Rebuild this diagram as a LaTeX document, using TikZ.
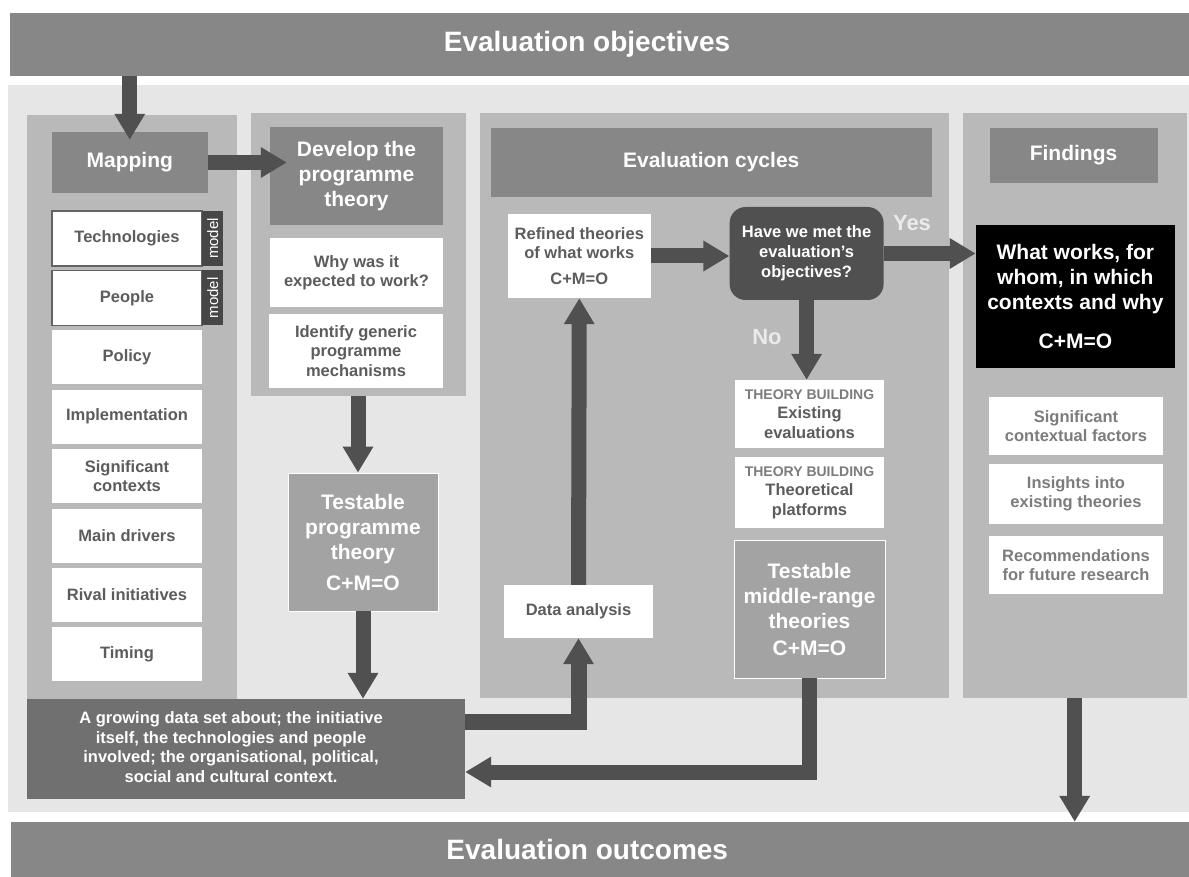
\documentclass[tikz,border=0pt]{standalone}
\usepackage{fontspec}
\setmainfont{Liberation Sans}
\usetikzlibrary{arrows.meta}

\definecolor{bannergray}{HTML}{878787}
\definecolor{backgray}{HTML}{E6E6E6}
\definecolor{panelgray}{HTML}{B9B9B9}
\definecolor{arrowgray}{HTML}{505050}
\definecolor{testgray}{HTML}{A3A3A3}
\definecolor{datagray}{HTML}{707070}
\definecolor{tagdark}{HTML}{474747}
\definecolor{textgray}{HTML}{5C5C5C}
\definecolor{lighttext}{HTML}{7C7C7C}

\tikzset{
  banner/.style={fill=bannergray, text=white, inner sep=0pt, font=\bfseries\fontsize{28}{32}\selectfont},
  panel/.style={fill=panelgray, inner sep=0pt},
  header/.style={fill=bannergray, text=white, align=center, inner sep=0pt, font=\bfseries\fontsize{21}{25}\selectfont},
  item/.style={fill=white, text=textgray, align=center, inner sep=0pt, font=\bfseries\fontsize{16.5}{19.5}\selectfont},
  finding/.style={item, text=lighttext},
  framed/.style={item, draw=tagdark!85, line width=1.5pt},
  tag/.style={fill=tagdark, text=white, inner sep=0pt, rotate=90, font=\fontsize{15}{15}\selectfont},
  testable/.style={fill=testgray, draw=white, line width=0.8pt, text=white, align=center, inner sep=0pt, font=\bfseries\fontsize{21}{25}\selectfont},
  decision/.style={fill=arrowgray, rounded corners=16pt, text=white, align=center, inner sep=0pt, font=\bfseries\fontsize{16.5}{20}\selectfont},
  answer/.style={text=white!92!black, inner sep=0pt, font=\bfseries\fontsize{22}{22}\selectfont},
  fat/.style={draw=arrowgray, line width=15pt, -{Triangle[width=29pt,length=26pt]}}
}

\newcommand{\tbhead}{{\color{lighttext}\fontsize{14}{17}\selectfont THEORY BUILDING}}

\begin{document}
\begin{tikzpicture}[x=1pt,y=-1pt]
\useasboundingbox (0,0) rectangle (1189,877);
\fill[backgray] (7.5,85) rectangle (1189,812);

% banners
\node[banner, minimum width=1179pt, minimum height=63pt] (obj) at (599.5,44.5) {Evaluation objectives\hspace*{25pt}};
\node[banner, minimum width=1178.5pt, minimum height=55pt] (outc) at (599.75,849.5) {Evaluation outcomes\hspace*{25pt}};

% columns
\node[panel, minimum width=210pt, minimum height=584pt] (mapcol) at (132,407) {};
\node[panel, minimum width=215pt, minimum height=283pt] (devcol) at (358,254.5) {};
\node[panel, minimum width=469pt, minimum height=585pt] (evcol) at (714,405.5) {};
\node[panel, minimum width=224pt, minimum height=585pt] (fcol) at (1074.7,405.5) {};

% mapping
\node[header, minimum width=156pt, minimum height=61pt] (map) at (129.75,162.5) {Mapping};
\node[framed, minimum width=150pt, minimum height=55pt] (tech) at (127,238.5) {Technologies};
\node[tag, minimum width=55pt, minimum height=21pt] (techtag) at (212.75,238.5) {model};
\node[framed, minimum width=150pt, minimum height=55pt] (people) at (127,297.9) {People};
\node[tag, minimum width=55pt, minimum height=21pt] (peopletag) at (212.75,297.9) {model};
\node[item, minimum width=150pt, minimum height=54pt] (policy) at (127,357.3) {Policy};
\node[item, minimum width=150pt, minimum height=54pt] (impl) at (127,416.7) {Implementation};
\node[item, minimum width=150pt, minimum height=54pt] (sigctx) at (127,476.1) {Significant\\contexts};
\node[item, minimum width=150pt, minimum height=54pt] (drivers) at (127,535.5) {Main drivers};
\node[item, minimum width=150pt, minimum height=54pt] (rival) at (127,594.9) {Rival initiatives};
\node[item, minimum width=150pt, minimum height=54pt] (timing) at (127,654.3) {Timing};

% programme theory
\node[header, minimum width=173pt, minimum height=98pt] (dev) at (356.5,176) {Develop the\\programme\\theory};
\node[item, minimum width=173pt, minimum height=69pt] (why) at (356.5,272.5) {Why was it\\expected to work?};
\node[item, minimum width=174pt, minimum height=74pt] (ident) at (356,351) {Identify generic\\programme\\mechanisms};
\node[testable, minimum width=150pt, minimum height=138pt] (tpt) at (363,542) {Testable\\programme\\theory\\[6pt]C+M=O};

% evaluation cycles
\node[header, minimum width=441.5pt, minimum height=69pt] (evc) at (711.25,162.5) {Evaluation cycles};
\node[item, minimum width=143pt, minimum height=84pt] (ref) at (579.3,256) {Refined theories\\of what works\\[6pt]C+M=O};
\node[decision, minimum width=154pt, minimum height=93pt] (have) at (806.6,253.5) {Have we met the\\evaluation’s\\objectives?};
\node[answer] (yes) at (912,223) {Yes};
\node[answer] (no) at (767,337) {No};
\node[item, minimum width=149pt, minimum height=68pt] (tb1) at (809.5,414) {\tbhead\\Existing\\evaluations};
\node[item, minimum width=149pt, minimum height=71pt] (tb2) at (809.5,492.5) {\tbhead\\Theoretical\\platforms};
\node[testable, minimum width=151pt, minimum height=138pt] (mr) at (809.5,609) {Testable\\middle-range\\theories\\[2pt]C+M=O};
\node[item, minimum width=149pt, minimum height=53pt] (da) at (578.5,611.5) {Data analysis};

% findings
\node[header, minimum width=168pt, minimum height=55pt] (fnd) at (1073.5,155.5) {Findings};
\node[fill=black, text=white, align=center, inner sep=0pt, minimum width=199pt, minimum height=143pt,
  font=\bfseries\fontsize{21}{25}\selectfont] (ww) at (1075.35,296.5) {What works, for\\whom, in which\\contexts and why\\[14pt]C+M=O};
\node[finding, minimum width=174pt, minimum height=58pt] (sig) at (1076,426) {Significant\\contextual factors};
\node[finding, minimum width=174pt, minimum height=60pt] (ins) at (1076,494) {Insights into\\existing theories};
\node[finding, minimum width=174pt, minimum height=58pt] (rec) at (1076,565) {Recommendations\\for future research};

% data set
\node[fill=datagray, text=white, inner sep=0pt, minimum width=438pt, minimum height=100pt,
  font=\bfseries\fontsize{16.5}{19.5}\selectfont] (ds) at (246,749)
  {\begin{tabular}{@{}c@{}}A growing data set about; the initiative\\itself, the technologies and people\\involved; the organisational, political,\\social and cultural context.\end{tabular}\hspace*{30pt}};

% arrows
\draw[fat] (map.north |- obj.south) -- ([yshift=-8pt]map.north);
\draw[fat] (map.east) -- ([xshift=17pt]dev.west |- map.east);
\draw[fat] (devcol.south) -- (devcol.south |- tpt.north);
\draw[fat] (tpt.south) -- (tpt.south |- ds.north);
\draw[fat, line width=16pt] ([yshift=27pt]ds.east) -| (da.south);
\draw[fat] (da.north) -- (ref.south);
\draw[fat] (ref.east) -- (ref.east -| have.west);
\draw[fat] (have.east) -- (have.east -| ww.west);
\draw[fat] (have.south) -- (have.south |- tb1.north);
\draw[fat] (mr.south) |- ([yshift=-23pt]ds.east);
\draw[fat] (fcol.south) -- (fcol.south |- outc.north);
\end{tikzpicture}
\end{document}
